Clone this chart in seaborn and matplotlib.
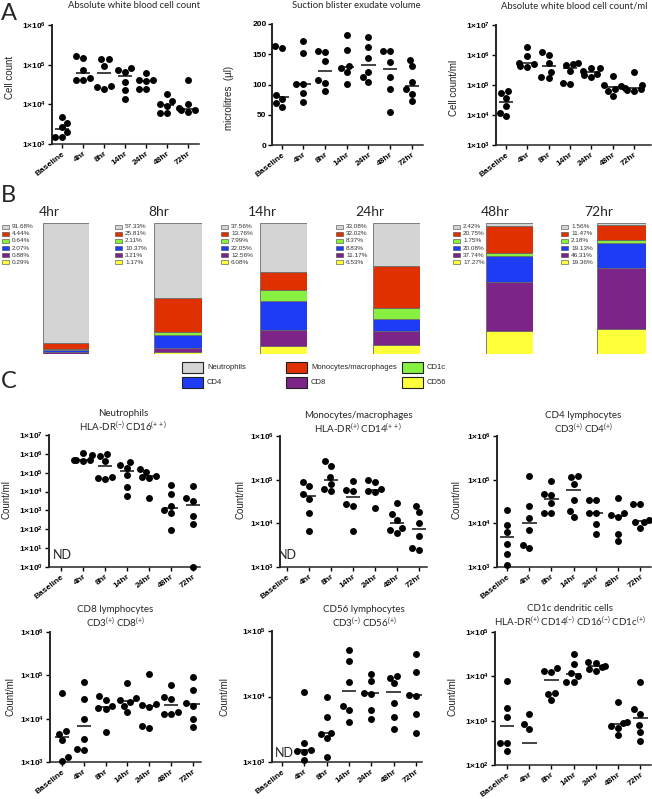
import numpy as np
import pandas as pd
import seaborn as sns
import matplotlib
matplotlib.use("Agg")
import matplotlib.pyplot as plt
from matplotlib.patches import Rectangle

W, H = 652, 799

TIMES = ["Baseline", "4hr", "8hr", "14hr", "24hr", "48hr", "72hr"]

# ---- panel A data (6 donors per time point) ----
wbc_count = [
    [4700, 3450, 2700, 2050, 1500, 1500],
    [145000, 168000, 73000, 47000, 42000, 40000],
    [135000, 140000, 93000, 29000, 27000, 24000],
    [81000, 73000, 66000, 37000, 23000, 13400],
    [63000, 42000, 40000, 38000, 24000, 24000],
    [17800, 12000, 10000, 9000, 5900, 5900],
    [41000, 10200, 8000, 7200, 7000, 6500],
]
blister_volume = [
    [161, 163, 83, 76, 70, 63.5],
    [172, 152, 101, 101, 86, 71],
    [155, 154, 139, 107, 103, 90],
    [182, 157, 131, 128, 120, 101],
    [179, 162, 144, 120, 112, 104],
    [155, 155, 137, 113, 92, 55],
    [141, 130, 104, 92, 85, 73],
]
wbc_per_ml = [
    [65000, 53000, 36000, 20000, 12000, 9300],
    [1900000, 930000, 540000, 510000, 420000, 400000],
    [1250000, 1000000, 550000, 280000, 190000, 170000],
    [550000, 520000, 460000, 300000, 115000, 110000],
    [380000, 360000, 290000, 240000, 210000, 180000],
    [195000, 100000, 95000, 72000, 65000, 42000],
    [280000, 100000, 82000, 75000, 70000, 65000],
]

# ---- panel B data (% of cells) ----
B_TIMES = ["4hr", "8hr", "14hr", "24hr", "48hr", "72hr"]
CELL_TYPES = ["Neutrophils", "Monocytes/macrophages", "CD1c", "CD4", "CD8", "CD56"]
CELL_COLORS = ["#d4d4d4", "#e03000", "#88f040", "#1f3cf5", "#7d2488", "#ffff3a"]
neutrophil_pct = [91.68, 57.33, 37.56, 33.08, 2.42, 1.56]
mono_pct = [4.44, 25.81, 13.76, 32.02, 20.75, 11.47]
cd1c_pct = [0.64, 2.11, 7.99, 8.37, 1.75, 2.18]
cd4_pct = [2.07, 10.37, 22.05, 8.83, 20.08, 19.13]
cd8_pct = [0.88, 3.21, 12.56, 11.17, 37.74, 46.31]
cd56_pct = [0.29, 1.17, 6.08, 6.53, 17.27, 19.36]

# ---- panel C data (count/ml), empty = not detected ----
neutrophils = [
    [],
    [1100000, 900000, 480000, 460000, 450000, 440000],
    [1000000, 800000, 420000, 56000, 50000, 48000],
    [380000, 250000, 180000, 75000, 18000, 6000],
    [150000, 110000, 70000, 56000, 50000, 4300],
    [22000, 7500, 1800, 1000, 750, 95],
    [19600, 4300, 3200, 515, 200, 1],
]
monocytes = [
    [],
    [89000, 70000, 46000, 37000, 17300, 6600],
    [265000, 210000, 115000, 80000, 60000, 55000],
    [93000, 58000, 55000, 27000, 25000, 6600],
    [100000, 88000, 62000, 55000, 52000, 22000],
    [29000, 16000, 12000, 8000, 7000, 6000],
    [25000, 18000, 10000, 5000, 2700, 2500],
]
cd4_cells = [
    [19800, 9300, 6300, 3300, 1950, 1130],
    [119000, 24500, 13500, 7100, 3200, 2700],
    [91000, 46000, 45000, 29000, 17300, 17000],
    [119000, 113000, 81000, 35000, 19000, 14000],
    [35000, 34000, 17500, 17000, 9800, 5800],
    [38000, 17500, 15500, 14000, 5800, 3900],
    [28000, 28000, 12000, 11000, 10500, 8000],
]
cd8_cells = [
    [40000, 5200, 4500, 3200, 1280, 1070],
    [70000, 29000, 9800, 3400, 1950, 1900],
    [33000, 27000, 20000, 18000, 17000, 4900],
    [65000, 30000, 27000, 24000, 20000, 14500],
    [105000, 22000, 21000, 19000, 6800, 6200],
    [60000, 31000, 28000, 14000, 13000, 12500],
    [92000, 46000, 23000, 20000, 9600, 6500],
]
cd56_cells = [
    [],
    [11800, 1950, 1550, 1450, 1400, 1080],
    [9900, 4800, 2800, 2700, 2300, 1200],
    [52000, 35000, 16800, 7200, 6300, 4050],
    [22000, 17000, 11500, 11000, 6300, 4500],
    [20500, 19500, 15800, 8000, 4900, 3200],
    [45000, 24000, 10500, 10300, 5500, 2800],
]
cd1c_cells = [
    [7800, 1900, 1200, 320, 315, 205],
    [1380, 820, 635, 0, 0, 0],
    [15500, 13300, 12600, 4300, 4000, 2900],
    [32500, 18500, 12000, 10000, 7600, 7400],
    [21500, 19500, 17500, 16000, 15000, 13500],
    [2600, 950, 900, 760, 700, 480],
    [7500, 1800, 1450, 800, 560, 350],
]

sns.set_theme(style="ticks")
plt.rcParams["font.family"] = ["Liberation Sans", "DejaVu Sans"]
plt.rcParams["mathtext.default"] = "regular"

fig = plt.figure(figsize=(W / 100, H / 100), dpi=100)


def fx(x):
    return x / W


def fy(y):
    return 1 - y / H


def px_axes(left, top, right, bottom):
    return fig.add_axes([fx(left), fy(bottom), (right - left) / W, (bottom - top) / H])


def dot_panel(box, tick0, step, data, ylim, log=True, ticks=None):
    left, top, right, bottom = box
    ax = px_axes(left, top, right, bottom)
    rows = [(TIMES[i], v) for i, vals in enumerate(data) for v in vals if v > 0]
    df = pd.DataFrame(rows, columns=["time", "value"])
    sns.swarmplot(data=df, x="time", y="value", order=TIMES, color="black",
                  size=5, ax=ax, log_scale=True if log else None, warn_thresh=1)
    for coll in ax.collections:
        coll.set_clip_on(False)
    for i, vals in enumerate(data):
        if len(vals):
            ax.hlines(np.median(vals), i - 0.33, i + 0.33, color="#222222", lw=1.2)
    ax.set_xlim(-(tick0 - left) / step, 6 + (right - (tick0 + 6 * step)) / step)
    ax.set_ylim(*ylim)
    if log:
        lo, hi = int(np.log10(ylim[0])), int(np.log10(ylim[1]))
        exps = list(range(lo, hi + 1))
        ax.set_yticks([10.0 ** e for e in exps], [f"1×10$^{{{e}}}$" for e in exps])
        ax.minorticks_off()
    else:
        ax.set_yticks(ticks, [str(t) for t in ticks])
    ax.set_xticks(range(len(TIMES)), TIMES, rotation=38, ha="right",
                  rotation_mode="anchor")
    for lab in ax.get_xticklabels() + ax.get_yticklabels():
        lab.set_fontsize(6)
        lab.set_fontweight("bold")
    ax.set_xlabel("")
    ax.set_ylabel("")
    sns.despine(ax=ax)
    ax.spines["left"].set_linewidth(1.4)
    ax.spines["bottom"].set_linewidth(1.1)
    ax.tick_params(axis="both", length=3, width=1, pad=1.5, colors="black")
    ax.tick_params(axis="y", pad=1)
    return ax


def ylabel(x, y, text):
    fig.text(fx(x), fy(y), text, rotation=90, ha="center", va="center",
             fontsize=7, color="#222222")


title_font = ["Lato", "DejaVu Sans"]

# ---------------- panel A ----------------
fig.text(fx(1), fy(13), "A", fontsize=17, family=title_font, va="center")
dot_panel((52, 25, 199, 144), 62.3, 20.9, wbc_count, (1e3, 1e6))
dot_panel((272, 24, 423, 145), 281.7, 21.67, blister_volume, (0, 200), log=False,
          ticks=[0, 50, 100, 150, 200])
dot_panel((496, 25, 651, 145), 506, 21.3, wbc_per_ml, (1e3, 1e7))
for x, t in [(134, "Absolute white blood cell count"), (356, "Suction blister exudate volume"),
             (574, "Absolute white blood cell count/ml")]:
    fig.text(fx(x), fy(6), t, ha="center", va="center", fontsize=6.8, family=title_font)
ylabel(10, 77, "Cell count")
ylabel(229, 98, "microlitres  (µl)")
ylabel(454, 88, "Cell count/ml")

# ---------------- panel B ----------------
fig.text(fx(1), fy(196), "B", fontsize=17, family=title_font, va="center")
pct_table = [neutrophil_pct, mono_pct, cd1c_pct, cd4_pct, cd8_pct, cd56_pct]
bar_x = [(43, 89), (154, 202), (260, 307), (373, 420), (486, 533), (597, 646)]
title_x = [49, 159, 262, 370, 495, 599]
legend_x = [2, 115, 221, 336, 453, 561]
for j, tp in enumerate(B_TIMES):
    ax = px_axes(bar_x[j][0], 223, bar_x[j][1], 354)
    bottom = 0.0
    for k in range(len(CELL_TYPES) - 1, -1, -1):
        val = pct_table[k][j]
        ax.bar(0, val, bottom=bottom, width=1, color=CELL_COLORS[k],
               edgecolor="#6a6a6a", linewidth=0.6)
        bottom += val
    ax.set_xlim(-0.5, 0.5)
    ax.set_ylim(0, 100)
    ax.axis("off")
    fig.text(fx(title_x[j]), fy(212), tp, ha="center", va="center", fontsize=10,
             family=title_font)
    for k in range(len(CELL_TYPES)):
        yc = 226.7 + 7.1 * k
        fig.add_artist(Rectangle((fx(legend_x[j]), fy(yc + 2)), 7 / W, 4 / H,
                                 transform=fig.transFigure, facecolor=CELL_COLORS[k],
                                 edgecolor="#444444", linewidth=0.4))
        fig.text(fx(legend_x[j] + 10), fy(yc), f"{pct_table[k][j]:.2f}%",
                 ha="left", va="center", fontsize=4.6, color="#333333")

legend_cols = [182, 286, 402]
legend_rows = [367.5, 382.5]
for k, name in enumerate(CELL_TYPES):
    row, col = divmod(k, 3)
    x0, yc = legend_cols[col], legend_rows[row]
    fig.add_artist(Rectangle((fx(x0), fy(yc + 5.5)), 21 / W, 11 / H,
                             transform=fig.transFigure, facecolor=CELL_COLORS[k],
                             edgecolor="#222222", linewidth=0.8))
    fig.text(fx(x0 + 25), fy(yc), name, ha="left", va="center", fontsize=5.5)

# ---------------- panel C ----------------
fig.text(fx(1), fy(382), "C", fontsize=17, family=title_font, va="center")
dot_panel((49, 435, 200, 567), 61, 22, neutrophils, (1e0, 1e7))
dot_panel((280, 436, 427, 567), 287, 22, monocytes, (1e3, 1e6))
dot_panel((497, 436, 651, 567), 507, 22.2, cd4_cells, (1e3, 1e6))
dot_panel((50, 632, 201, 762), 62, 21.8, cd8_cells, (1e3, 1e6))
dot_panel((272, 631, 422, 762), 282, 22.3, cd56_cells, (1e3, 1e5))
dot_panel((495, 632, 651, 765), 507, 22.2, cd1c_cells, (1e2, 1e5))

c_titles = [
    (123, 421, "Neutrophils\nHLA-DR$^{(-)}$ CD16$^{(++)}$"),
    (358, 423, "Monocytes/macrophages\nHLA-DR$^{(+)}$ CD14$^{(++)}$"),
    (583, 423, "CD4 lymphocytes\nCD3$^{(+)}$ CD4$^{(+)}$"),
    (115, 617, "CD8 lymphocytes\nCD3$^{(+)}$ CD8$^{(+)}$"),
    (364, 617, "CD56 lymphocytes\nCD3$^{(-)}$ CD56$^{(+)}$"),
    (570, 616, "CD1c dendritic cells\nHLA-DR$^{(+)}$ CD14$^{(-)}$ CD16$^{(-)}$ CD1c$^{(+)}$"),
]
for x, y, t in c_titles:
    fig.text(fx(x), fy(y), t, ha="center", va="center", fontsize=7,
             family=title_font, linespacing=1.15)
for x, y in [(6, 500), (240, 500), (456, 500), (10, 697), (225, 697), (453, 697)]:
    ylabel(x, y, "Count/ml")
for x, y in [(53, 555), (278, 555), (275, 753)]:
    fig.text(fx(x), fy(y), "ND", ha="left", va="center", fontsize=9, family=title_font)

fig.savefig("out.png", dpi=100)
